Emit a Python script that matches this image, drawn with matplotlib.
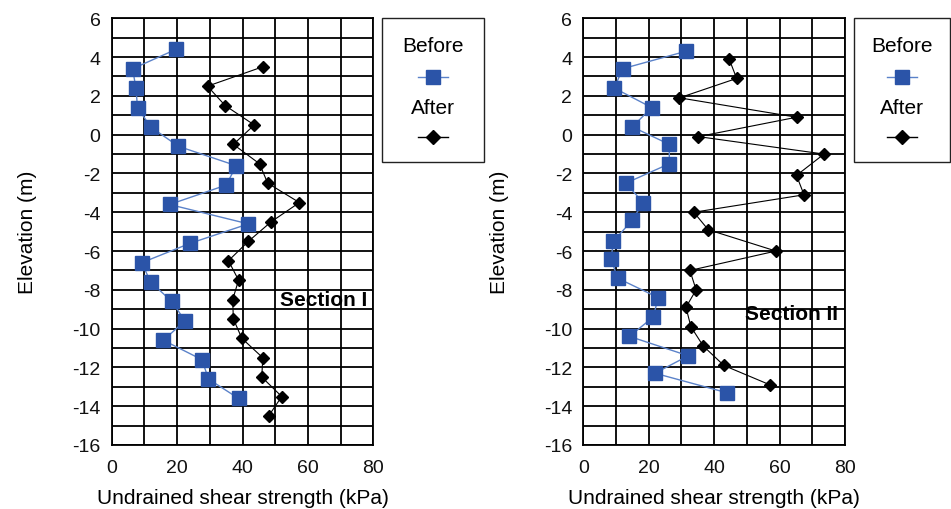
import numpy as np
import matplotlib
matplotlib.use("Agg")
import matplotlib.pyplot as plt
from matplotlib.lines import Line2D
from matplotlib.patches import Rectangle

plt.rcParams['font.family'] = ['Liberation Sans', 'DejaVu Sans']
plt.rcParams['axes.unicode_minus'] = False

# Section I
s1_before_su = [19.7, 6.4, 7.4, 7.9, 11.9, 20.4, 38.1, 35.0, 17.7, 41.8,
                24.0, 9.2, 11.9, 18.4, 22.4, 15.8, 27.6, 29.6, 38.8]
s1_before_z = [4.4, 3.4, 2.4, 1.4, 0.4, -0.6, -1.6, -2.6, -3.6, -4.6,
               -5.6, -6.6, -7.6, -8.6, -9.6, -10.6, -11.6, -12.6, -13.6]
s1_after_su = [46.2, 29.3, 34.7, 43.6, 37.2, 45.2, 47.7, 57.4, 48.7, 41.8,
               35.7, 38.8, 37.0, 37.2, 39.8, 46.2, 45.9, 52.0, 48.0]
s1_after_z = [3.5, 2.5, 1.5, 0.5, -0.5, -1.5, -2.5, -3.5, -4.5, -5.5,
              -6.5, -7.5, -8.5, -9.5, -10.5, -11.5, -12.5, -13.5, -14.5]

# Section II
s2_before_su = [31.4, 12.0, 9.5, 20.9, 15.0, 26.3, 26.3, 13.0, 18.3, 15.0,
                9.2, 8.5, 10.5, 22.9, 21.4, 14.1, 32.1, 21.9, 43.8]
s2_before_z = [4.3, 3.4, 2.4, 1.4, 0.4, -0.5, -1.5, -2.5, -3.5, -4.4,
               -5.5, -6.4, -7.4, -8.4, -9.4, -10.4, -11.4, -12.3, -13.3]
s2_after_su = [44.6, 46.9, 29.4, 65.2, 35.2, 73.6, 65.2, 67.5, 33.8, 38.2,
               58.9, 32.6, 34.5, 31.4, 32.9, 36.7, 43.0, 57.1]
s2_after_z = [3.9, 2.9, 1.9, 0.9, -0.1, -1.0, -2.1, -3.1, -4.0, -4.9,
              -6.0, -7.0, -8.0, -8.9, -9.9, -10.9, -11.9, -12.9]

sections = [
    ("Section I", s1_before_su, s1_before_z, s1_after_su, s1_after_z, (51.5, -8.5)),
    ("Section II", s2_before_su, s2_before_z, s2_after_su, s2_after_z, (49.5, -9.2)),
]

BLUE = '#2b54a8'
LINE_BLUE = '#5b82c9'

fig = plt.figure(figsize=(9.51, 5.10), dpi=100)
W, H = 951, 510

def fx(px):
    return px / W

def fy(py):
    return 1 - py / H

ax_lefts = [111.7, 583.3]
legend_boxes = [(382, 484), (854, 950)]

for (name, b_su, b_z, a_su, a_z, txt), x0, (lx0, lx1) in zip(sections, ax_lefts, legend_boxes):
    ax = fig.add_axes([fx(x0), fy(446), 261.6 / W, (446 - 19.3) / H])
    ax.plot(b_su, b_z, color=LINE_BLUE, lw=1.0, marker='s', ms=9.5,
            mfc=BLUE, mec=BLUE, zorder=3)
    ax.plot(a_su, a_z, color='black', lw=0.8, marker='D', ms=6.5,
            mfc='black', mec='black', zorder=3)
    ax.set_xlim(0, 80)
    ax.set_ylim(-16, 6)
    ax.set_xticks(np.arange(0, 81, 20))
    ax.set_yticks(np.arange(-16, 7, 2))
    ax.set_xticks(np.arange(0, 81, 10), minor=True)
    ax.set_yticks(np.arange(-16, 7, 1), minor=True)
    ax.grid(True, which='both', color='black', lw=1.3)
    ax.tick_params(which='both', length=0, labelsize=14, colors='#111111')
    ax.tick_params(axis='x', pad=10)
    ax.tick_params(axis='y', pad=8)
    for sp in ax.spines.values():
        sp.set_linewidth(1.3)
    ax.set_xlabel("Undrained shear strength (kPa)", fontsize=15, labelpad=9)
    ax.set_ylabel("Elevation (m)", fontsize=15, labelpad=25)
    ax.text(txt[0], txt[1], name, fontsize=15, fontweight='bold',
            va='center', ha='left', zorder=4)

    # legend box, labels stacked above the markers
    fig.add_artist(Rectangle((fx(lx0), fy(163)), (lx1 - lx0) / W, (163 - 19) / H,
                             transform=fig.transFigure, fill=False,
                             edgecolor='#222222', lw=1.0))
    cx = (lx0 + lx1) / 2
    fig.text(fx(cx), fy(47), "Before", fontsize=15, ha='center', va='center')
    fig.add_artist(Line2D([fx(cx - 15), fx(cx + 15)], [fy(78), fy(78)],
                          transform=fig.transFigure, color=LINE_BLUE, lw=1.0))
    fig.add_artist(Line2D([fx(cx)], [fy(78)], transform=fig.transFigure,
                          marker='s', ms=9.5, mfc=BLUE, mec=BLUE, lw=0))
    fig.text(fx(cx), fy(108), "After", fontsize=15, ha='center', va='center')
    fig.add_artist(Line2D([fx(cx - 15), fx(cx + 15)], [fy(138), fy(138)],
                          transform=fig.transFigure, color='black', lw=1.0))
    fig.add_artist(Line2D([fx(cx)], [fy(138)], transform=fig.transFigure,
                          marker='D', ms=7, mfc='black', mec='black', lw=0))

fig.savefig("out.png", dpi=100)
